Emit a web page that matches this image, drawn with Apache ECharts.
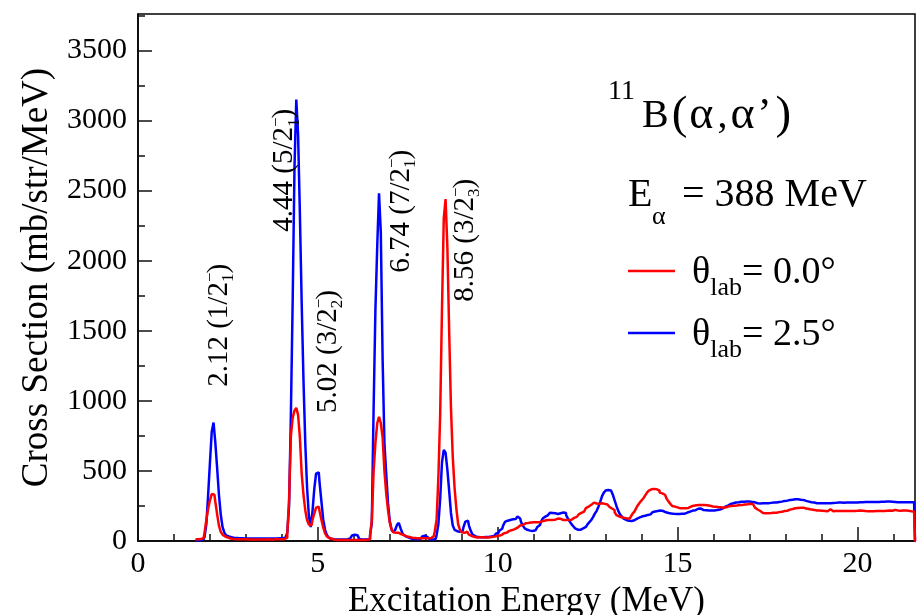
<!DOCTYPE html>
<html><head><meta charset="utf-8">
<script src="https://cdn.jsdelivr.net/npm/echarts@6/dist/echarts.min.js"></script>
<style>html,body{margin:0;padding:0;background:#fff}#c{width:922px;height:615px}</style>
</head><body><div id="c"></div>
<script>
// histogram binning (MeV)
const binStart = 1.5;
const binWidth = 0.05;

// theta_lab = 0.0 deg (red), one value per 0.05 MeV bin, rows of 0.5 MeV starting at 1.5 MeV
const red00 = [
null,null,12,12,14,15,22,60,150,230,
290,335,330,280,190,110,65,45,32,25,
20,18,15,14,13,13,12,12,12,12,
12,11,12,11,11,12,11,11,12,11,
11,11,12,11,11,11,12,11,12,12,
12,15,22,50,300,750,880,930,950,900,
740,480,330,220,150,118,112,150,195,238,
245,210,150,95,55,32,20,14,10,9,
8,8,8,8,7,8,8,8,8,8,
8,8,8,8,8,8,8,9,12,30,
150,500,700,840,885,840,740,500,340,220,
130,80,62,58,58,55,48,42,36,32,
28,26,24,22,21,20,20,20,20,20,
20,20,22,25,35,70,150,450,900,1650,
2300,2440,2100,1500,950,600,380,230,120,80,
62,58,66,58,45,36,30,26,25,26,
27,26,25,24,25,26,28,30,33,36,
38,42,48,55,60,66,72,78,82,85,
95,105,110,115,120,126,128,130,132,133,
133,133,133,135,140,145,150,150,150,150,
150,152,155,160,158,155,150,150,150,150,
152,158,165,172,180,190,200,210,222,235,
245,258,270,274,268,264,266,269,268,265,
260,255,245,232,221,205,185,175,170,168,
165,160,155,160,175,195,210,235,257,275,
290,305,325,345,360,369,372,370,369,360,
345,340,330,317,300,281,265,250,245,240,
235,233,233,233,233,236,240,246,252,252,
255,257,257,256,257,257,255,252,248,246,
245,244,242,240,238,238,240,245,248,250,
250,252,254,256,257,257,258,260,262,264,
266,262,250,238,225,214,206,200,198,198,
198,199,200,202,202,204,206,208,212,214,
216,220,224,228,232,234,236,238,238,238,
236,232,228,226,224,222,220,218,217,217,
216,214,213,212,226,215,213,214,214,214,
214,213,214,214,213,214,214,213,214,215,
216,217,216,215,214,213,212,212,213,214,
214,214,213,214,214,215,216,217,217,216,
222,226,218,216,216,217,217,216,215,212,
210,210,0
];

// theta_lab = 2.5 deg (blue)
const blue25 = [
null,null,4,5,6,8,12,30,120,330,
560,780,845,700,520,330,190,100,60,40,
32,27,24,22,21,20,20,19,19,18,
18,18,17,18,17,18,17,17,18,17,
17,17,18,17,17,18,18,18,19,20,
20,24,35,60,250,900,1720,2660,3150,2900,
2340,1700,1150,700,380,180,100,210,370,480,
490,410,280,150,80,42,25,16,12,10,
10,10,9,10,10,11,13,18,28,40,
45,42,28,15,11,10,10,10,14,40,
130,950,1650,2100,2480,2200,1300,700,480,270,
140,80,62,80,115,130,90,55,40,30,
22,18,15,14,13,13,15,20,32,38,
28,14,10,10,10,15,40,120,300,560,
650,630,510,360,200,110,80,70,65,65,
72,100,138,145,110,72,46,35,28,25,
26,27,28,28,29,30,32,35,42,52,
60,75,88,110,136,145,150,152,155,157,
165,174,160,135,110,90,80,74,71,72,
76,85,100,114,135,160,174,185,195,202,
200,198,195,193,198,202,203,200,185,162,
140,120,105,90,81,80,85,90,100,110,
120,135,150,170,195,215,245,280,320,345,
360,364,360,352,330,290,250,215,190,175,
160,150,145,143,143,148,155,160,168,174,
176,180,183,186,190,198,205,210,214,217,
217,214,210,205,200,198,196,194,193,193,
193,193,194,195,198,203,210,215,217,220,
225,230,231,226,221,220,218,217,217,217,
218,221,222,225,232,240,245,252,258,264,
269,272,275,277,279,280,280,280,281,281,
281,279,276,272,269,268,269,270,269,269,
270,272,273,274,274,275,278,281,284,286,
288,290,292,295,297,298,298,296,294,293,
290,286,281,278,276,274,272,270,269,269,
269,269,270,269,269,270,271,272,273,274,
274,274,273,274,274,274,275,275,274,275,
276,276,277,277,278,278,279,279,279,279,
279,279,280,280,280,281,281,281,281,280,
279,277,276,276,276,276,276,276,276,276,
276,276,0
];

// axis ticks
const xMajorTicks = [0, 5, 10, 15, 20];
const xMinorTicks = [0,1,2,3,4,5,6,7,8,9,10,11,12,13,14,15,16,17,18,19,20,21];
const yMajorTicks = [0, 500, 1000, 1500, 2000, 2500, 3000, 3500];
const yMinorTicks = [0,250,500,750,1000,1250,1500,1750,2000,2250,2500,2750,3000,3250,3500,3750];

// state labels: text, energy position (MeV), start height (mb/str/MeV)
const peakTexts = [
  '2.12 (1/2{sp|−}{sb|1})',
  '4.44 (5/2{sp|−}{sb|1})',
  '5.02 (3/2{sp|−}{sb|2})',
  '6.74 (7/2{sp|−}{sb|1})',
  '8.56 (3/2{sp|−}{sb|3})'
];
const peakLabelE = [2.26, 4.08, 5.28, 7.32, 9.10];
const peakLabelY = [1100, 2207, 914, 1914, 1707];

const seriesNames = ['theta0', 'theta25'];
const FONT = 'Liberation Serif';

function toPts(vals) {
  return vals.map((v, i) => [binStart + binWidth * (i + 0.5), v]);
}

const chart = echarts.init(document.getElementById('c'), null, {renderer: 'canvas'});

const tickStyle = {color: '#111', width: 1.5};
const F = (size) => ({fontSize: size, fontFamily: FONT, color: '#000'});
const option = {
  animation: false,
  backgroundColor: '#fff',
  textStyle: {fontFamily: FONT},
  grid: {left: 138, right: 7, top: 14, bottom: 74, show: true, borderColor: '#000', borderWidth: 1.5,
         backgroundColor: 'transparent', containLabel: false, outerBoundsMode: 'none'},
  xAxis: [
    {
      type: 'value', min: 0, max: 21.6, position: 'bottom',
      axisLine: {show: true, onZero: false, lineStyle: {color: '#000', width: 1.5}},
      axisTick: {show: true, inside: true, length: 14, customValues: xMajorTicks, lineStyle: tickStyle},
      axisLabel: {customValues: xMajorTicks, fontSize: 30, color: '#000', margin: 8, fontFamily: FONT,
                  formatter: v => String(v)},
      splitLine: {show: false},
      name: 'Excitation Energy (MeV)', nameLocation: 'middle', nameGap: 37,
      nameTextStyle: {fontSize: 35, color: '#000', fontFamily: FONT}
    },
    {
      type: 'value', min: 0, max: 21.6, position: 'bottom',
      axisLine: {show: false},
      axisTick: {show: true, inside: true, length: 7, customValues: xMinorTicks, lineStyle: tickStyle},
      axisLabel: {show: false}, splitLine: {show: false}
    }
  ],
  yAxis: [
    {
      type: 'value', min: 0, max: 3760, position: 'left',
      axisLine: {show: true, onZero: false, lineStyle: {color: '#000', width: 1.5}},
      axisTick: {show: true, inside: true, length: 14, customValues: yMajorTicks, lineStyle: tickStyle},
      axisLabel: {customValues: yMajorTicks, fontSize: 30, color: '#000', margin: 11, fontFamily: FONT,
                  formatter: v => String(v)},
      splitLine: {show: false},
      name: 'Cross Section (mb/str/MeV)', nameLocation: 'middle', nameGap: 80, nameRotate: 90,
      nameTextStyle: {fontSize: 37, color: '#000', fontFamily: FONT}
    },
    {
      type: 'value', min: 0, max: 3760, position: 'left',
      axisLine: {show: false},
      axisTick: {show: true, inside: true, length: 7, customValues: yMinorTicks, lineStyle: tickStyle},
      axisLabel: {show: false}, splitLine: {show: false}
    }
  ],
  legend: {
    data: [seriesNames[0], seriesNames[1]],
    orient: 'vertical', left: 628, top: 249, padding: 0, itemGap: 10,
    icon: 'rect', itemWidth: 47, itemHeight: 2.5,
    selectedMode: false,
    formatter: function (name) {
      return name === seriesNames[0] ? '{t|θ}{s|lab}{t|= 0.0°}' : '{t|θ}{s|lab}{t|= 2.5°}';
    },
    textStyle: {
      color: '#000', fontFamily: FONT, padding: [0, 0, 0, 12],
      rich: {
        t: Object.assign(F(38), {verticalAlign: 'top', padding: [5, 0, 0, 0], lineHeight: 44}),
        s: Object.assign(F(26), {verticalAlign: 'top', padding: [26, 0, 0, 0], lineHeight: 44})
      }
    }
  },
  graphic: [
    {type: 'text', x: 608, y: 92, silent: true, style: {text: '11', font: '28px "Liberation Serif"', fill: '#000', verticalAlign: 'middle', align: 'left'}},
    {type: 'text', x: 642, y: 116, silent: true, style: {
      text: '{b|B}{o|(}{a1|α}{c|,}{a2|α}{q|’}{cl|)}',
      verticalAlign: 'middle', align: 'left',
      rich: {
        b: F(40),
        o: Object.assign(F(47), {padding: [0, 0, 0, 3]}),
        a1: Object.assign(F(46), {padding: [0, 0, 0, 2]}),
        c: Object.assign(F(40), {padding: [0, 0, 0, 4]}),
        a2: Object.assign(F(46), {padding: [0, 0, 0, 3]}),
        q: Object.assign(F(42), {padding: [0, 0, 0, 3]}),
        cl: Object.assign(F(47), {padding: [0, 0, 0, 4]})
      }
    }},
    {type: 'text', x: 628, y: 195, silent: true, style: {text: 'E', font: '40px "Liberation Serif"', fill: '#000', verticalAlign: 'middle', align: 'left'}},
    {type: 'text', x: 652, y: 217, silent: true, style: {text: 'α', font: '26px "Liberation Serif"', fill: '#000', verticalAlign: 'middle', align: 'left'}},
    {type: 'text', x: 682, y: 195, silent: true, style: {text: '= 388 MeV', font: '40px "Liberation Serif"', fill: '#000', verticalAlign: 'middle', align: 'left'}}
  ],
  series: [
    {
      name: seriesNames[1], type: 'line', step: 'middle', showSymbol: false, symbol: 'none',
      data: toPts(blue25), xAxisIndex: 0, yAxisIndex: 0,
      lineStyle: {color: '#0000ff', width: 2.5}, itemStyle: {color: '#0000ff'},
      silent: true, z: 3
    },
    {
      name: seriesNames[0], type: 'line', step: 'middle', showSymbol: false, symbol: 'none',
      data: toPts(red00), xAxisIndex: 0, yAxisIndex: 0,
      lineStyle: {color: '#ff0000', width: 2.5}, itemStyle: {color: '#ff0000'},
      silent: true, z: 4
    },
    {
      name: 'labels', type: 'scatter', symbolSize: 0, silent: true, z: 5,
      itemStyle: {opacity: 1},
      data: peakTexts.map((t, i) => ({value: [peakLabelE[i], peakLabelY[i]], label: {formatter: t}})),
      label: {
        show: true, position: 'inside', rotate: 90, align: 'left', verticalAlign: 'middle', opacity: 1,
        fontSize: 29, fontFamily: FONT, color: '#000', lineHeight: 34, textBorderWidth: 0,
        rich: {
          sp: {fontSize: 17, fontFamily: FONT, color: '#000', verticalAlign: 'top', padding: [0, 0, 0, 0], width: 0, lineHeight: 34},
          sb: {fontSize: 17, fontFamily: FONT, color: '#000', verticalAlign: 'top', padding: [18, 0, 0, 0], lineHeight: 34}
        }
      }
    }
  ]
};
chart.setOption(option);
</script>
</body></html>
